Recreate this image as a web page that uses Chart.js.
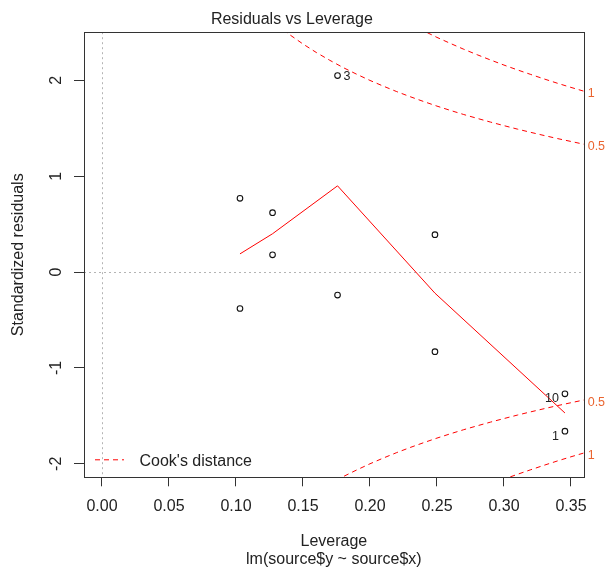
<!DOCTYPE html>
<html>
<head>
<meta charset="utf-8">
<script src="https://cdn.jsdelivr.net/npm/chart.js@4.4.0/dist/chart.umd.min.js"></script>
<style>
  html, body { margin: 0; padding: 0; background: #fff; }
</style>
</head>
<body>
<canvas id="resLevChart" width="608" height="571"></canvas>
<script>
Chart.defaults.font.family = '"Liberation Sans", Arial, sans-serif';
Chart.defaults.color = '#222';

// observations 1..10
const leverage = [0.3455, 0.2485, 0.1758, 0.1273, 0.1030, 0.1030, 0.1273, 0.1758, 0.2485, 0.3455];
const stdResid = [-1.66, 0.39, 2.05, 0.62, 0.77, -0.38, 0.18, -0.24, -0.83, -1.27];
const idLabels = ['1', '', '3', '', '', '', '', '', '', '10'];
const idSide = ['left', '', 'right', '', '', '', '', '', '', 'left'];

// red smoother
const smoothLev = [0.1030, 0.1273, 0.1758, 0.2485, 0.3455];
const smoothResid = [0.19, 0.40, 0.90, -0.22, -1.47];

// Cook's distance contours (0.5 and 1)
const cookLev = [0.13, 0.14, 0.15, 0.16, 0.17, 0.18, 0.19, 0.20, 0.21, 0.22, 0.23, 0.24,
                 0.25, 0.26, 0.27, 0.28, 0.29, 0.30, 0.31, 0.32, 0.33, 0.34, 0.35, 0.36];
const cookUpper05 = [2.587, 2.478, 2.380, 2.291, 2.210, 2.134, 2.065, 2.000, 1.940, 1.883, 1.830, 1.780,
                     1.732, 1.687, 1.644, 1.604, 1.565, 1.528, 1.492, 1.458, 1.425, 1.393, 1.363, 1.333];
const cookLower05 = [-2.587, -2.478, -2.380, -2.291, -2.210, -2.134, -2.065, -2.000, -1.940, -1.883, -1.830, -1.780,
                     -1.732, -1.687, -1.644, -1.604, -1.565, -1.528, -1.492, -1.458, -1.425, -1.393, -1.363, -1.333];
const cookUpper1 = [3.659, 3.505, 3.367, 3.240, 3.125, 3.018, 2.920, 2.828, 2.743, 2.663, 2.588, 2.517,
                    2.449, 2.386, 2.325, 2.268, 2.213, 2.160, 2.110, 2.062, 2.015, 1.970, 1.927, 1.886];
const cookLower1 = [-3.659, -3.505, -3.367, -3.240, -3.125, -3.018, -2.920, -2.828, -2.743, -2.663, -2.588, -2.517,
                    -2.449, -2.386, -2.325, -2.268, -2.213, -2.160, -2.110, -2.062, -2.015, -1.970, -1.927, -1.886];
const cookLabelText = ['1', '0.5', '0.5', '1'];
const cookLabelVal = [1.89, 1.335, -1.335, -1.89];

const xTicks = [0, 0.05, 0.10, 0.15, 0.20, 0.25, 0.30, 0.35];
const yTicks = [-2, -1, 0, 1, 2];

const pts = (xs, ys) => xs.map((x, i) => ({ x: x, y: ys[i] }));

const cookLine = (ys) => ({
    data: pts(cookLev, ys),
    showLine: true,
    borderColor: '#ff0000',
    borderWidth: 1,
    borderDash: [5, 4],
    pointRadius: 0
});

// R-style extras: dotted zero lines, box, point ids, contour labels, legend
const rStyle = {
    id: 'rStyle',
    beforeDatasetsDraw(chart) {
        const { ctx, chartArea: a, scales: { x, y } } = chart;
        ctx.save();
        ctx.strokeStyle = '#b4b4b4';
        ctx.lineWidth = 1;
        ctx.setLineDash([2, 3]);
        const x0 = Math.round(x.getPixelForValue(0)) + 0.5;
        const y0 = Math.round(y.getPixelForValue(0)) + 0.5;
        ctx.beginPath();
        ctx.moveTo(x0, a.top); ctx.lineTo(x0, a.bottom);
        ctx.moveTo(a.left, y0); ctx.lineTo(a.right, y0);
        ctx.stroke();
        ctx.restore();
    },
    afterDraw(chart) {
        const { ctx, chartArea: a, scales: { y } } = chart;
        ctx.save();
        ctx.strokeStyle = '#333';
        ctx.lineWidth = 1;
        ctx.strokeRect(Math.round(a.left) + 0.5, Math.round(a.top) + 0.5,
                       Math.round(a.right - a.left), Math.round(a.bottom - a.top));

        // point ids
        const meta = chart.getDatasetMeta(0);
        ctx.font = '12.5px "Liberation Sans", Arial, sans-serif';
        ctx.fillStyle = '#222';
        ctx.textBaseline = 'middle';
        idLabels.forEach((lab, i) => {
            if (!lab) return;
            const p = meta.data[i];
            if (idSide[i] === 'left') {
                ctx.textAlign = 'right';
                ctx.fillText(lab, p.x - 6, p.y + 5);
            } else {
                ctx.textAlign = 'left';
                ctx.fillText(lab, p.x + 6, p.y + 1);
            }
        });

        // contour labels in right margin
        ctx.fillStyle = '#ea6530';
        ctx.textAlign = 'left';
        cookLabelText.forEach((t, i) => {
            ctx.fillText(t, a.right + 4, y.getPixelForValue(cookLabelVal[i]) + 2.5);
        });

        // legend
        const ly = a.bottom - 17.5;
        ctx.strokeStyle = '#ff0000';
        ctx.setLineDash([5, 4]);
        ctx.beginPath();
        ctx.moveTo(a.left + 11, ly);
        ctx.lineTo(a.left + 40, ly);
        ctx.stroke();
        ctx.setLineDash([]);
        ctx.fillStyle = '#222';
        ctx.font = '16px "Liberation Sans", Arial, sans-serif';
        ctx.fillText("Cook's distance", a.left + 55.5, ly + 1.5);
        ctx.restore();
    }
};

const ctx = document.getElementById('resLevChart');
new Chart(ctx, {
    type: 'scatter',
    data: {
        datasets: [
            {
                data: pts(leverage, stdResid),
                pointRadius: 2.8,
                pointBorderWidth: 1.1,
                pointBorderColor: '#111',
                pointBackgroundColor: 'rgba(0,0,0,0)'
            },
            {
                data: pts(smoothLev, smoothResid),
                showLine: true,
                borderColor: '#ff0000',
                borderWidth: 1,
                pointRadius: 0
            },
            cookLine(cookUpper05),
            cookLine(cookLower05),
            cookLine(cookUpper1),
            cookLine(cookLower1)
        ]
    },
    options: {
        responsive: false,
        animation: false,
        devicePixelRatio: 1,
        layout: { padding: { left: 0, right: 24.3, top: 0, bottom: 0 } },
        scales: {
            x: {
                type: 'linear',
                min: -0.0134,
                max: 0.3595,
                afterBuildTicks: (s) => { s.ticks = xTicks.map(v => ({ value: v })); },
                afterFit: (s) => { s.height = 93.7; },
                grid: { drawOnChartArea: false, tickLength: 9, color: '#333' },
                border: { display: false },
                ticks: {
                    padding: 11,
                    font: { size: 16 },
                    callback: (v) => v.toFixed(2)
                },
                title: {
                    display: true,
                    text: ['Leverage', 'lm(source$y ~ source$x)'],
                    font: { size: 16, lineHeight: 1.1 },
                    padding: { top: 0, bottom: 2.9 }
                }
            },
            y: {
                type: 'linear',
                min: -2.141,
                max: 2.503,
                afterBuildTicks: (s) => { s.ticks = yTicks.map(v => ({ value: v })); },
                afterFit: (s) => { s.width = 84; },
                grid: { drawOnChartArea: false, tickLength: 10, color: '#333' },
                border: { display: false },
                ticks: {
                    minRotation: 90,
                    maxRotation: 90,
                    crossAlign: 'center',
                    padding: 10,
                    font: { size: 16 }
                },
                title: {
                    display: true,
                    text: 'Standardized residuals',
                    font: { size: 16 },
                    padding: { top: 9, bottom: 0 }
                }
            }
        },
        plugins: {
            legend: { display: false },
            tooltip: { enabled: false },
            title: {
                display: true,
                text: 'Residuals vs Leverage',
                font: { size: 16, weight: 'normal' },
                color: '#222',
                padding: { top: 10, bottom: 3 }
            }
        }
    },
    plugins: [rStyle]
});
</script>
</body>
</html>
